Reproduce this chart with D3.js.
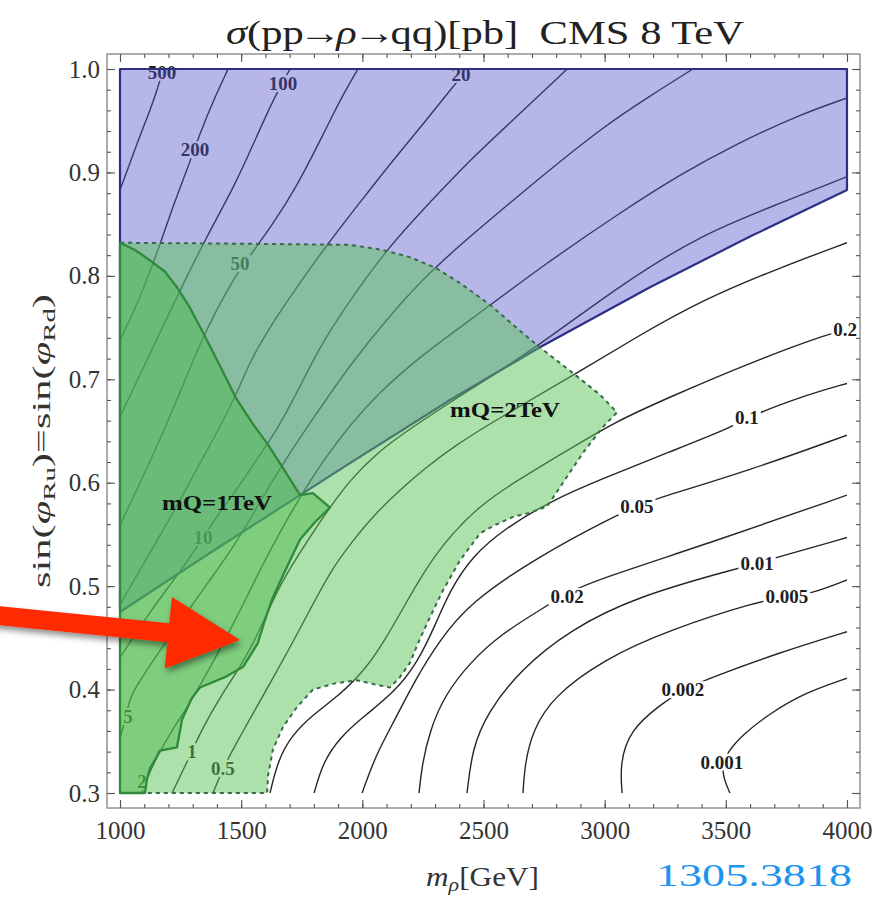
<!DOCTYPE html>
<html>
<head>
<meta charset="utf-8">
<title>σ(pp→ρ→qq) CMS 8 TeV</title>
<script src="https://cdn.jsdelivr.net/npm/d3@7/dist/d3.min.js"></script>
<style>
  html, body { margin: 0; padding: 0; background: #ffffff; }
  svg { display: block; }
  text { font-family: "Liberation Serif", "Times New Roman", serif; }
</style>
</head>
<body>
<svg id="chart" width="889" height="897"></svg>
<script>
// ---------------- axis ticks ----------------
const xTicks = [1000, 1500, 2000, 2500, 3000, 3500, 4000];
const yTicks = [0.3, 0.4, 0.5, 0.6, 0.7, 0.8, 0.9, 1.0];

// ---------------- iso-cross-section lines, sigma in pb ----------------
// points are [m_rho (GeV), sin(phi_R)]
const sigma500 = [[1000,0.883],[1041,0.909],[1083,0.936],[1124,0.960],[1157,0.982],[1177,1.000]];
const sigma200 = [[1446,1.000],[1392,0.973],[1330,0.938],[1281,0.905],[1227,0.873],[1165,0.830],[1103,0.791],[1050,0.762],[1000,0.738]];
const sigma100 = [[1702,1.000],[1631,0.970],[1557,0.931],[1475,0.888],[1351,0.835],[1248,0.786],[1136,0.731],[1062,0.694],[1000,0.664]];
const sigma50 = [[1982,1.000],[1908,0.970],[1854,0.944],[1730,0.886],[1619,0.846],[1528,0.817],[1466,0.796],[1392,0.764],[1330,0.735],[1227,0.675],[1124,0.620],[1000,0.559]];
const sigma20 = [[2436,1.000],[2370,0.982],[2259,0.949],[2127,0.912],[1990,0.871],[1854,0.830],[1735,0.791],[1619,0.751],[1536,0.717],[1483,0.687],[1413,0.654],[1330,0.619],[1248,0.583],[1165,0.549],[1083,0.516],[1000,0.482]];
const sigma10 = [[2845,1.000],[2651,0.957],[2444,0.912],[2279,0.871],[2114,0.830],[1920,0.767],[1817,0.728],[1730,0.687],[1648,0.651],[1557,0.620],[1475,0.591],[1404,0.569],[1343,0.547],[1281,0.525],[1206,0.501],[1124,0.475],[1062,0.453],[1000,0.431]];
const sigma5 = [[3364,1.000],[3187,0.974],[2993,0.944],[2733,0.895],[2444,0.838],[2279,0.804],[2114,0.762],[1949,0.714],[1805,0.665],[1681,0.622],[1569,0.578],[1475,0.540],[1371,0.506],[1268,0.472],[1165,0.438],[1083,0.409],[1041,0.393],[1025,0.373],[1000,0.353]];
const sigma2 = [[4000,0.972],[3806,0.956],[3546,0.928],[3311,0.898],[3063,0.861],[2733,0.808],[2444,0.757],[2238,0.722],[2073,0.688],[1949,0.656],[1834,0.620],[1735,0.583],[1652,0.549],[1578,0.516],[1508,0.482],[1433,0.448],[1359,0.416],[1289,0.387],[1215,0.361],[1157,0.337],[1116,0.317],[1091,0.300]];
const sigma1 = [[4000,0.896],[3724,0.870],[3406,0.841],[3063,0.791],[2721,0.731],[2444,0.690],[2188,0.651],[2061,0.629],[1949,0.603],[1838,0.567],[1730,0.528],[1648,0.496],[1578,0.458],[1508,0.426],[1413,0.393],[1330,0.358],[1297,0.340],[1256,0.320],[1215,0.300]];
const sigma05 = [[4000,0.832],[3724,0.808],[3406,0.777],[3146,0.743],[2857,0.702],[2568,0.663],[2382,0.636],[2259,0.614],[2155,0.593],[2061,0.572],[1957,0.543],[1867,0.514],[1784,0.477],[1702,0.441],[1619,0.406],[1549,0.377],[1487,0.351],[1425,0.324],[1384,0.300]];
const sigma02 = [[4000,0.748],[3922,0.744],[3600,0.716],[3270,0.683],[3034,0.658],[2816,0.627],[2630,0.601],[2486,0.578],[2362,0.549],[2259,0.516],[2176,0.482],[2094,0.448],[2011,0.419],[1908,0.395],[1792,0.375],[1710,0.356],[1652,0.332],[1619,0.300]];
const sigma01 = [[4000,0.696],[3806,0.683],[3587,0.663],[3530,0.654],[3270,0.630],[2981,0.603],[2783,0.583],[2589,0.556],[2453,0.529],[2362,0.496],[2300,0.462],[2230,0.427],[2135,0.398],[2011,0.375],[1908,0.354],[1838,0.330],[1801,0.300]];
const sigma005 = [[4000,0.646],[3600,0.612],[3216,0.585],[3133,0.577],[3034,0.567],[2721,0.528],[2444,0.484],[2320,0.448],[2217,0.409],[2135,0.371],[2056,0.337],[1999,0.300]];
const sigma002 = [[4000,0.588],[3476,0.545],[2939,0.504],[2845,0.493],[2754,0.480],[2568,0.453],[2444,0.426],[2341,0.395],[2279,0.361],[2246,0.327],[2234,0.300]];
const sigma001 = [[4000,0.547],[3715,0.528],[3629,0.522],[3530,0.516],[3133,0.490],[2857,0.458],[2651,0.419],[2514,0.377],[2453,0.342],[2432,0.300]];
const sigma0005 = [[4000,0.506],[3860,0.493],[3752,0.490],[3629,0.485],[3270,0.458],[2993,0.429],[2787,0.393],[2704,0.361],[2671,0.329],[2663,0.300]];
const sigma0002 = [[4000,0.456],[3724,0.436],[3443,0.412],[3323,0.400],[3228,0.385],[3105,0.361],[3063,0.329],[3072,0.300]];
const sigma0001 = [[4000,0.411],[3827,0.397],[3682,0.377],[3567,0.356],[3509,0.340],[3484,0.327],[3492,0.313],[3517,0.300]];

// level names and where each level's value is written on its line
const contourLevels = ["500","200","100","50","20","10","5","2","1","0.5","0.2","0.1","0.05","0.02","0.01","0.005","0.002","0.001"];
const contourLabelAt = [[1173,0.997],[1309,0.922],[1673,0.986],[1495,0.812],[2407,0.995],[1343,0.547],[1033,0.374],[1091,0.311],[1297,0.340],[1425,0.324],[3992,0.748],[3587,0.663],[3133,0.577],[2845,0.490],[3629,0.522],[3752,0.490],[3323,0.400],[3484,0.330]];

// ---------------- excluded regions ----------------
const cmsExcluded = [[1000,1.000],[4000,1.000],[4000,0.883],[3600,0.838],[3187,0.789],[2733,0.731],[2362,0.680],[1949,0.619],[1743,0.588],[1371,0.532],[1000,0.475]];
const mQ2TeVRegion = [[1000,0.832],[1536,0.831],[1949,0.830],[2085,0.825],[2197,0.818],[2300,0.808],[2403,0.793],[2527,0.772],[2630,0.751],[2721,0.733],[2869,0.706],[2981,0.685],[3051,0.668],[2993,0.654],[2911,0.629],[2828,0.600],[2762,0.577],[2692,0.571],[2622,0.567],[2547,0.559],[2486,0.551],[2403,0.525],[2333,0.496],[2279,0.470],[2230,0.445],[2197,0.426],[2155,0.412],[2114,0.402],[2052,0.405],[1978,0.409],[1887,0.406],[1796,0.400],[1730,0.383],[1673,0.364],[1631,0.342],[1611,0.317],[1607,0.300],[1000,0.300]];
const mQ1TeVRegion = [[1000,0.832],[1062,0.825],[1124,0.815],[1186,0.804],[1235,0.789],[1289,0.769],[1343,0.745],[1404,0.717],[1483,0.680],[1545,0.658],[1607,0.638],[1673,0.614],[1743,0.588],[1796,0.590],[1867,0.576],[1805,0.562],[1743,0.545],[1702,0.525],[1660,0.504],[1627,0.487],[1598,0.467],[1569,0.445],[1508,0.422],[1433,0.412],[1330,0.402],[1297,0.392],[1256,0.371],[1235,0.344],[1165,0.341],[1149,0.334],[1124,0.324],[1111,0.313],[1103,0.300],[1000,0.300]];
const regionNames = ["mQ=2TeV", "mQ=1TeV"];
const regionLabelAt = [[2589,0.670],[1400,0.580]];

// annotation arrow (tail sits left of the axis)
const arrowTail = [505, 0.472];
const arrowTip = [1495, 0.448];

// ---------------- drawing ----------------
const svg = d3.select("#chart");
const x = d3.scaleLinear().domain([1000, 4000]).range([120, 847]);
const y = d3.scaleLinear().domain([0.3, 1.0]).range([793, 69]);
const frame = { left: x(1000) - 13, right: x(4000) + 13, top: y(1.0) - 15, bottom: y(0.3) + 15 };

const defs = svg.append("defs");
defs.append("clipPath").attr("id", "plotClip").append("rect")
  .attr("x", x(1000)).attr("y", y(1.0))
  .attr("width", x(4000) - x(1000)).attr("height", y(0.3) - y(1.0));
const shadow = defs.append("filter").attr("id", "arrowShadow")
  .attr("x", "-20%").attr("y", "-30%").attr("width", "150%").attr("height", "180%");
shadow.append("feDropShadow").attr("dx", 2).attr("dy", 4).attr("stdDeviation", 3)
  .attr("flood-color", "#000").attr("flood-opacity", 0.45);

const curveLine = d3.line().x(d => x(d[0])).y(d => y(d[1])).curve(d3.curveBasis);
const polyLine = d3.line().x(d => x(d[0])).y(d => y(d[1])).curve(d3.curveLinearClosed);

const contourLines = [sigma500, sigma200, sigma100, sigma50, sigma20, sigma10, sigma5, sigma2, sigma1,
  sigma05, sigma02, sigma01, sigma005, sigma002, sigma001, sigma0005, sigma0002, sigma0001];
const contours = contourLevels.map((lv, i) => ({ level: lv, points: contourLines[i], at: contourLabelAt[i] }));

// contour lines (drawn first: the translucent regions tint them)
const contourG = svg.append("g").attr("clip-path", "url(#plotClip)");
contourG.selectAll("path").data(contours).join("path")
  .attr("d", d => curveLine(d.points))
  .attr("fill", "none").attr("stroke", "#262626").attr("stroke-width", 1.4);

// value labels, each on a white patch that breaks its line
const labelBg = svg.append("g");
const labelTexts = svg.append("g").selectAll("text").data(contours).join("text")
  .attr("x", d => x(d.at[0])).attr("y", d => y(d.at[1]))
  .attr("dy", "0.35em").attr("text-anchor", "middle")
  .attr("font-size", 19).attr("font-weight", "bold")
  .attr("fill", "#1e1e1e")
  .text(d => d.level);
labelTexts.each(function () {
  const b = this.getBBox();
  labelBg.append("rect")
    .attr("x", b.x - 2).attr("y", b.y + 2)
    .attr("width", b.width + 4).attr("height", b.height - 4)
    .attr("fill", "#ffffff");
});

// CMS dijet exclusion
svg.append("path").attr("d", polyLine(cmsExcluded))
  .attr("fill", "rgb(80,80,200)").attr("fill-opacity", 0.42)
  .attr("stroke", "#2e2e86").attr("stroke-width", 2.2).attr("stroke-linejoin", "round");

// m_Q = 2 TeV region
svg.append("path").attr("d", polyLine(mQ2TeVRegion))
  .attr("fill", "rgb(90,195,90)").attr("fill-opacity", 0.5)
  .attr("stroke", "#3a6b48").attr("stroke-width", 2).attr("stroke-dasharray", "4,4");

// m_Q = 1 TeV region
svg.append("path").attr("d", polyLine(mQ1TeVRegion))
  .attr("fill", "rgb(70,185,70)").attr("fill-opacity", 0.45)
  .attr("stroke", "#2f8a3c").attr("stroke-width", 2.3).attr("stroke-linejoin", "round");

svg.append("g").selectAll("text").data(regionNames).join("text")
  .attr("x", (d, i) => x(regionLabelAt[i][0])).attr("y", (d, i) => y(regionLabelAt[i][1]))
  .attr("dy", "0.35em").attr("text-anchor", "middle")
  .attr("font-size", 20).attr("font-weight", "bold").attr("fill", "#111")
  .attr("textLength", 110).attr("lengthAdjust", "spacingAndGlyphs")
  .text(d => d);

// frame and ticks on all four sides
svg.append("rect").attr("x", frame.left).attr("y", frame.top)
  .attr("width", frame.right - frame.left).attr("height", frame.bottom - frame.top)
  .attr("fill", "none").attr("stroke", "#8a8a8a").attr("stroke-width", 1.4);

const xMinor = d3.range(10, 41).map(i => i * 100);
const yMinor = d3.range(15, 51).map(i => i / 50);

function styleAxis(g) {
  g.select(".domain").remove();
  g.selectAll(".tick line").attr("stroke", "#555").attr("stroke-width", 1.1);
  g.attr("font-family", '"Liberation Serif", "Times New Roman", serif').attr("font-size", 25);
  g.selectAll(".tick text").attr("fill", "#333");
}
const axes = [
  [d3.axisBottom(x).tickValues(xTicks).tickSize(-8).tickPadding(13).tickFormat(d3.format("d")), `translate(0,${frame.bottom})`],
  [d3.axisBottom(x).tickValues(xMinor).tickSize(-4).tickFormat(""), `translate(0,${frame.bottom})`],
  [d3.axisTop(x).tickValues(xTicks).tickSize(-8).tickFormat(""), `translate(0,${frame.top})`],
  [d3.axisTop(x).tickValues(xMinor).tickSize(-4).tickFormat(""), `translate(0,${frame.top})`],
  [d3.axisLeft(y).tickValues(yTicks).tickSize(-8).tickPadding(7).tickFormat(d3.format(".1f")), `translate(${frame.left},0)`],
  [d3.axisLeft(y).tickValues(yMinor).tickSize(-4).tickFormat(""), `translate(${frame.left},0)`],
  [d3.axisRight(y).tickValues(yTicks).tickSize(-8).tickFormat(""), `translate(${frame.right},0)`],
  [d3.axisRight(y).tickValues(yMinor).tickSize(-4).tickFormat(""), `translate(${frame.right},0)`]
];
axes.forEach(([ax, tr]) => svg.append("g").attr("transform", tr).call(ax).call(styleAxis));

// title
const title = svg.append("text").attr("x", 226).attr("y", 44)
  .attr("font-size", 34).attr("fill", "#222")
  .attr("textLength", 518).attr("lengthAdjust", "spacingAndGlyphs");
title.append("tspan").attr("font-style", "italic").text("σ");
title.append("tspan").text("(pp");
title.append("tspan").attr("dx", -4).text("→");
title.append("tspan").attr("dx", -4).attr("font-style", "italic").text("ρ");
title.append("tspan").attr("dx", -3).text("→");
title.append("tspan").attr("dx", -4).text("qq)[pb]\u00a0\u00a0CMS 8 TeV");

// x axis title
const xt = svg.append("text").attr("x", 426).attr("y", 886)
  .attr("font-size", 27).attr("fill", "#333")
  .attr("textLength", 113).attr("lengthAdjust", "spacingAndGlyphs");
xt.append("tspan").attr("font-style", "italic").text("m");
xt.append("tspan").attr("font-style", "italic").attr("font-size", 19).attr("dy", 5).text("ρ");
xt.append("tspan").attr("dy", -5).text("[GeV]");

// y axis title
const yt = svg.append("text").attr("transform", "translate(50,588) rotate(-90)")
  .attr("font-size", 25).attr("fill", "#333")
  .attr("textLength", 294).attr("lengthAdjust", "spacingAndGlyphs");
yt.append("tspan").text("sin(");
yt.append("tspan").attr("font-style", "italic").text("φ");
yt.append("tspan").attr("font-size", 17).attr("dy", 5).text("Ru");
yt.append("tspan").attr("dy", -5).text(")=sin(");
yt.append("tspan").attr("font-style", "italic").text("φ");
yt.append("tspan").attr("font-size", 17).attr("dy", 5).text("Rd");
yt.append("tspan").attr("dy", -5).text(")");

// red arrow pointing at the m_Q = 1 TeV tongue
(function drawArrow() {
  const t0 = [x(arrowTail[0]) - 6, y(arrowTail[1])];
  const t1 = [x(arrowTip[0]), y(arrowTip[1])];
  const len = Math.hypot(t1[0] - t0[0], t1[1] - t0[1]);
  const u = [(t1[0] - t0[0]) / len, (t1[1] - t0[1]) / len];
  const n = [-u[1], u[0]];
  const headLen = 72, headHalf = 36, shaftHalf = 9.5;
  const back = [t1[0] - u[0] * headLen, t1[1] - u[1] * headLen];
  const p = (b, k) => [b[0] + n[0] * k, b[1] + n[1] * k];
  const pts = [p(t0, -shaftHalf), p(back, -shaftHalf), p(back, -headHalf), t1,
               p(back, headHalf), p(back, shaftHalf), p(t0, shaftHalf)];
  svg.append("path").attr("d", d3.line()(pts) + "Z")
    .attr("fill", "#ff2a00").attr("filter", "url(#arrowShadow)");
})();

// reference tag
svg.append("text").attr("x", 656).attr("y", 886)
  .attr("font-family", '"Open Sans", "DejaVu Sans", sans-serif')
  .attr("font-size", 32).attr("fill", "#1b95ef")
  .attr("textLength", 196).attr("lengthAdjust", "spacingAndGlyphs")
  .text("1305.3818");
</script>
</body>
</html>
